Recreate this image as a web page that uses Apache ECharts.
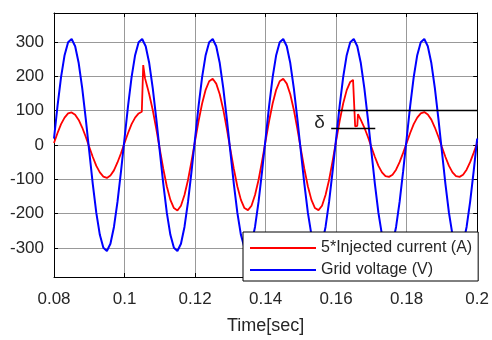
<!DOCTYPE html>
<html>
<head>
<meta charset="utf-8">
<script src="https://cdn.jsdelivr.net/npm/echarts@6/dist/echarts.min.js"></script>
<style>html,body{margin:0;padding:0;background:#fff}#c{width:492px;height:340px}</style>
</head>
<body>
<div id="c"></div>
<script>
// ---- data ----
var xTicks = [0.08, 0.1, 0.12, 0.14, 0.16, 0.18, 0.2];
var yTicks = [-300, -200, -100, 0, 100, 200, 300];

var timeV = [
0.080,0.081,0.082,0.083,0.084,0.085,0.086,0.087,0.088,0.089,
0.090,0.091,0.092,0.093,0.094,0.095,0.096,0.097,0.098,0.099,
0.100,0.101,0.102,0.103,0.104,0.105,0.106,0.107,0.108,0.109,
0.110,0.111,0.112,0.113,0.114,0.115,0.116,0.117,0.118,0.119,
0.120,0.121,0.122,0.123,0.124,0.125,0.126,0.127,0.128,0.129,
0.130,0.131,0.132,0.133,0.134,0.135,0.136,0.137,0.138,0.139,
0.140,0.141,0.142,0.143,0.144,0.145,0.146,0.147,0.148,0.149,
0.150,0.151,0.152,0.153,0.154,0.155,0.156,0.157,0.158,0.159,
0.160,0.161,0.162,0.163,0.164,0.165,0.166,0.167,0.168,0.169,
0.170,0.171,0.172,0.173,0.174,0.175,0.176,0.177,0.178,0.179,
0.180,0.181,0.182,0.183,0.184,0.185,0.186,0.187,0.188,0.189,
0.190,0.191,0.192,0.193,0.194,0.195,0.196,0.197,0.198,0.199,
0.200];
var gridVoltage = [
19,114,198,262,300,309,288,239,166,77,
-19,-114,-198,-262,-300,-309,-288,-239,-166,-77,
19,114,198,262,300,309,288,239,166,77,
-19,-114,-198,-262,-300,-309,-288,-239,-166,-77,
19,114,198,262,300,309,288,239,166,77,
-19,-114,-198,-262,-300,-309,-288,-239,-166,-77,
19,114,198,262,300,309,288,239,166,77,
-19,-114,-198,-262,-300,-309,-288,-239,-166,-77,
19,114,198,262,300,309,288,239,166,77,
-19,-114,-198,-262,-300,-309,-288,-239,-166,-77,
19,114,198,262,300,309,288,239,166,77,
-19,-114,-198,-262,-300,-309,-288,-239,-166,-77,
19];

var timeI = [
0.080,0.081,0.082,0.083,0.084,0.085,0.086,0.087,0.088,0.089,
0.090,0.091,0.092,0.093,0.094,0.095,0.096,0.097,0.098,0.099,
0.100,0.101,0.102,0.103,0.104,0.1049,0.1053,0.1058,0.1065,0.107,0.108,0.109,
0.110,0.111,0.112,0.113,0.114,0.115,0.116,0.117,0.118,0.119,
0.120,0.121,0.122,0.123,0.124,0.125,0.126,0.127,0.128,0.129,
0.130,0.131,0.132,0.133,0.134,0.135,0.136,0.137,0.138,0.139,
0.140,0.141,0.142,0.143,0.144,0.145,0.146,0.147,0.148,0.149,
0.150,0.151,0.152,0.153,0.154,0.155,0.156,0.157,0.158,0.159,
0.160,0.161,0.162,0.163,0.164,0.1648,0.1652,0.1654,0.1660,0.1662,0.167,0.168,0.169,
0.170,0.171,0.172,0.173,0.174,0.175,0.176,0.177,0.178,0.179,
0.180,0.181,0.182,0.183,0.184,0.185,0.186,0.187,0.188,0.189,
0.190,0.191,0.192,0.193,0.194,0.195,0.196,0.197,0.198,0.199,
0.200];
var injectedCurrent = [
6,35,61,80,92,95,88,73,51,24,
-6,-35,-61,-80,-92,-96,-89,-74,-51,-24,
6,35,61,80,92,97,233,195,168,148,102,47,
-12,-70,-121,-160,-184,-191,-177,-146,-102,-47,
12,70,121,161,186,193,179,148,103,48,
-12,-70,-121,-160,-184,-190,-177,-146,-102,-47,
12,70,121,161,186,193,179,148,103,48,
-12,-70,-121,-160,-184,-190,-177,-146,-102,-47,
12,70,121,160,184,190,187,54,56,90,73,51,24,
-6,-35,-61,-80,-91,-93,-87,-72,-50,-23,
6,35,61,80,92,96,89,74,51,24,
-6,-35,-61,-80,-91,-93,-87,-72,-50,-23,
6];

// delta annotation lines [t0, t1, level]
var deltaUpper = [0.1605, 0.2, 100];
var deltaLower = [0.1586, 0.1711, 50];
var deltaLabelPos = [0.1553, 64];

var seriesNames = ['5*Injected current (A)', 'Grid voltage (V)'];

function pairs(t, v) { return t.map(function (x, i) { return [x, v[i]]; }); }

var FONT = '"Liberation Sans", Arial, Helvetica, sans-serif';
var TXT = '#262626';
var GRID = '#999999';

var chart = echarts.init(document.getElementById('c'), null, { renderer: 'canvas' });

function xAx(pos, showLabel) {
  return {
    type: 'value', position: pos, min: 0.08, max: 0.2,
    axisLine: { show: true, onZero: false, lineStyle: { color: '#000', width: 1 } },
    axisTick: { show: true, inside: true, length: 4, customValues: xTicks, lineStyle: { color: '#000' } },
    axisLabel: { show: showLabel, customValues: xTicks, margin: 14, fontFamily: FONT, fontSize: 17, color: TXT,
      formatter: function (v) { return String(parseFloat(v.toFixed(3))); } },
    splitLine: { show: showLabel, lineStyle: { color: GRID, width: 1 } },
    name: showLabel ? 'Time[sec]' : '', nameLocation: 'middle', nameGap: 40,
    nameTextStyle: { fontFamily: FONT, fontSize: 18, color: TXT }
  };
}
function yAx(pos, showLabel) {
  return {
    type: 'value', position: pos, min: -385, max: 385,
    axisLine: { show: true, onZero: false, lineStyle: { color: '#000', width: 1 } },
    axisTick: { show: true, inside: true, length: 4, customValues: yTicks, lineStyle: { color: '#000' } },
    axisLabel: { show: showLabel, customValues: yTicks, margin: 10, fontFamily: FONT, fontSize: 17, color: TXT },
    splitLine: { show: showLabel, lineStyle: { color: GRID, width: 1 } }
  };
}

chart.setOption({
  animation: false,
  backgroundColor: '#fff',
  grid: { left: 54, right: 14, top: 13, bottom: 59, containLabel: false },
  xAxis: [xAx('bottom', true), xAx('top', false)],
  yAxis: [yAx('left', true), yAx('right', false)],
  legend: {
    data: seriesNames.map(function (n) { return { name: n, icon: 'rect' }; }),
    orient: 'vertical', left: 243, top: 232,
    backgroundColor: '#fff', borderColor: '#000', borderWidth: 1, borderRadius: 0,
    padding: [8, 6, 3, 7],
    itemWidth: 66, itemHeight: 2, itemGap: 6,
    textStyle: { fontFamily: FONT, fontSize: 16, color: TXT, lineHeight: 16 }
  },
  series: [
    {
      name: seriesNames[0], type: 'line', data: pairs(timeI, injectedCurrent),
      symbol: 'none', showSymbol: false, lineStyle: { color: '#ff0000', width: 1.8 }, itemStyle: { color: '#ff0000' },
      z: 2,
      markLine: {
        silent: true, symbol: 'none', label: { show: false },
        lineStyle: { color: '#000', width: 1.3, type: 'solid' },
        data: [
          [{ coord: [deltaUpper[0], deltaUpper[2]] }, { coord: [deltaUpper[1], deltaUpper[2]] }],
          [{ coord: [deltaLower[0], deltaLower[2]] }, { coord: [deltaLower[1], deltaLower[2]] }]
        ]
      },
      markPoint: {
        silent: true, symbol: 'circle', symbolSize: 0,
        label: { show: true, formatter: 'δ', fontFamily: FONT, fontSize: 19, color: TXT, position: 'inside' },
        data: [{ coord: deltaLabelPos }]
      }
    },
    {
      name: seriesNames[1], type: 'line', data: pairs(timeV, gridVoltage),
      symbol: 'none', showSymbol: false, lineStyle: { color: '#0000ff', width: 2 }, itemStyle: { color: '#0000ff' },
      z: 3
    }
  ]
});
</script>
</body>
</html>
